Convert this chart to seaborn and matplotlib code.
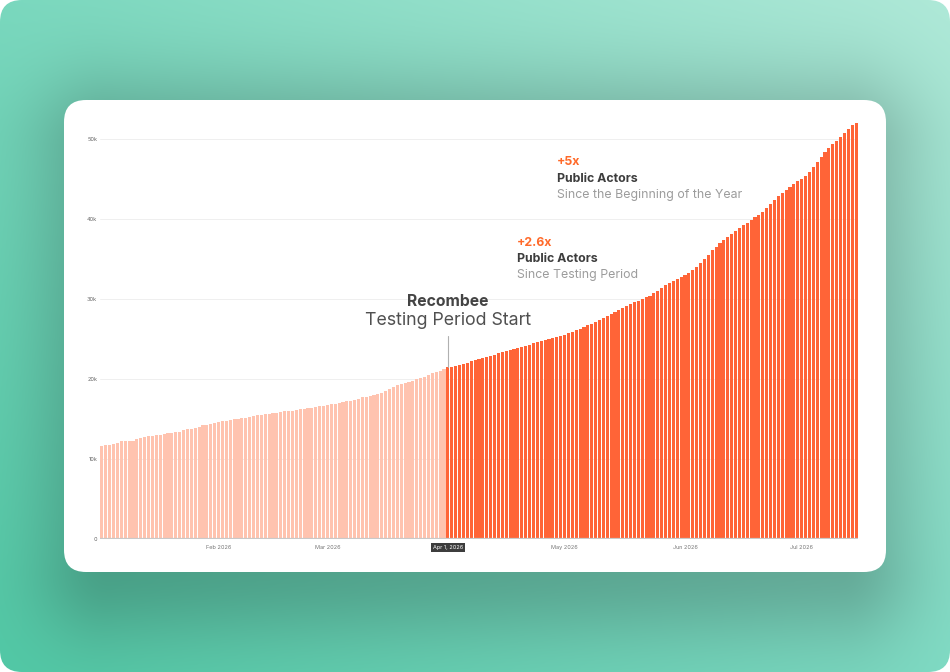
import numpy as np
import pandas as pd
import seaborn as sns
import matplotlib.pyplot as plt
from matplotlib.patches import FancyBboxPatch

# public actors per day, in thousands
jan = [11.65, 11.7, 11.8, 11.85, 12.0, 12.2, 12.25, 12.3, 12.3, 12.55, 12.65, 12.75, 12.85, 12.9, 12.95,
       13.05, 13.1, 13.2, 13.25, 13.35, 13.4, 13.6, 13.7, 13.75, 13.9, 14.05, 14.2, 14.25, 14.35, 14.45]
feb = [14.6, 14.7, 14.75, 14.85, 14.95, 15.05, 15.1, 15.15, 15.25, 15.35, 15.45, 15.55, 15.6, 15.65,
       15.7, 15.8, 15.9, 15.95, 16.0, 16.05, 16.15, 16.25, 16.3, 16.35, 16.4, 16.5, 16.6, 16.65]
mar = [16.75, 16.85, 16.9, 17.0, 17.1, 17.2, 17.3, 17.4, 17.55, 17.7, 17.8, 17.9, 18.0, 18.15, 18.3, 18.5,
       18.7, 18.95, 19.25, 19.35, 19.45, 19.6, 19.8, 20.0, 20.15, 20.3, 20.5, 20.7, 20.85, 21.0, 21.2]
apr = [21.5, 21.55, 21.6, 21.7, 21.85, 22.05, 22.25, 22.4, 22.5, 22.65, 22.8, 22.9, 23.05, 23.2, 23.35,
       23.5, 23.6, 23.7, 23.85, 24.0, 24.15, 24.3, 24.45, 24.6, 24.75, 24.85, 25.0, 25.1, 25.25, 25.4]
may = [25.55, 25.7, 25.9, 26.1, 26.3, 26.5, 26.7, 26.9, 27.15, 27.4, 27.65, 27.9, 28.1, 28.35, 28.6, 28.85,
       29.1, 29.4, 29.6, 29.8, 30.0, 30.2, 30.4, 30.75, 31.05, 31.4, 31.7, 31.95, 32.2, 32.45, 32.7]
jun = [33.0, 33.3, 33.65, 34.0, 34.5, 35.0, 35.55, 36.1, 36.5, 36.95, 37.4, 37.8, 38.15, 38.5, 38.85,
       39.2, 39.5, 39.85, 40.2, 40.55, 40.9, 41.4, 41.9, 42.4, 42.9, 43.3, 43.65, 44.0, 44.35, 44.7]
jul = [45.0, 45.4, 45.9, 46.5, 47.1, 47.8, 48.4, 48.9, 49.35, 49.8, 50.3, 50.8, 51.3, 51.75, 52.0]

first_day = "2026-01-02"
testing_start = "2026-04-01"
month_ticks = ["2026-02-01", "2026-03-01", "2026-05-01", "2026-06-01", "2026-07-01"]
month_labels = ["Feb 2026", "Mar 2026", "May 2026", "Jun 2026", "Jul 2026"]
y_ticks = [0, 10, 20, 30, 40, 50]
y_labels = ["0", "10k", "20k", "30k", "40k", "50k"]

values = jan + feb + mar + apr + may + jun + jul
dates = pd.date_range(first_day, periods=len(values), freq="D")
df = pd.DataFrame({"day": np.arange(len(values)), "actors": values,
                   "phase": np.where(dates < pd.Timestamp(testing_start), "before", "after")})
start_i = int(np.where(dates == pd.Timestamp(testing_start))[0][0])
start_val = values[start_i]

sns.set_style("white")
plt.rcParams["font.family"] = ["Inter", "DejaVu Sans"]

W, H = 950, 672
fig = plt.figure(figsize=(9.5, 6.72), dpi=100)
fig.patch.set_facecolor("white")

# background gradient with the card shadow
bg = fig.add_axes([0, 0, 1, 1])
yy, xx = np.mgrid[0:H, 0:W]
u, v = xx / W, yy / H
tl, tr = np.array([122, 216, 190]), np.array([175, 233, 216])
bl, br = np.array([82, 201, 166]), np.array([128, 219, 196])
img = ((1 - u) * (1 - v))[..., None] * tl + (u * (1 - v))[..., None] * tr \
    + ((1 - u) * v)[..., None] * bl + (u * v)[..., None] * br
dx = np.maximum(np.maximum(110 - xx, xx - 840), 0)
dy = np.maximum(np.maximum(150 - yy, yy - 565), 0)
shadow = np.exp(-(dx ** 2 + dy ** 2) / (2 * 55.0 ** 2))
img = img * (1 - 0.22 * shadow[..., None])
im = bg.imshow(img.astype(np.uint8), extent=[0, W, H, 0], interpolation="bilinear")
bg.set_xlim(0, W)
bg.set_ylim(H, 0)
bg.axis("off")
outer = FancyBboxPatch((0, 0), W, H, boxstyle="round,pad=0,rounding_size=22",
                       transform=bg.transData, facecolor="none", edgecolor="none")
bg.add_patch(outer)
im.set_clip_path(outer)
card = FancyBboxPatch((64, 100), 822, 472, boxstyle="round,pad=0,rounding_size=22",
                      facecolor="white", edgecolor="none")
bg.add_patch(card)

# chart
ax = fig.add_axes([100 / W, (H - 539) / H, 758 / W, (539 - 119.8) / H])
ax.set_facecolor("none")
sns.barplot(data=df, x="day", y="actors", hue="phase", dodge=False, legend=False,
            palette={"before": "#ffc3af", "after": "#ff6437"}, saturation=1,
            width=0.8, linewidth=0, ax=ax)
ax.set_xlim(-0.5, len(values) - 0.5)
ax.set_ylim(0, 52.4)
sns.despine(ax=ax, left=True, bottom=True)
ax.set_xlabel("")
ax.set_ylabel("")
ax.set_yticks(y_ticks)
ax.set_yticklabels(y_labels, fontsize=4, color="#666666")
ax.tick_params(axis="y", length=0, pad=2)
ax.grid(axis="y", color="#efefef", linewidth=0.7)
ax.set_axisbelow(True)
ax.axhline(0, color="#c9c9c9", linewidth=1.6, zorder=5)

tick_pos = [int(np.where(dates == pd.Timestamp(d))[0][0]) for d in month_ticks]
ax.set_xticks(tick_pos)
ax.set_xticklabels(month_labels, fontsize=4, color="#777777")
ax.tick_params(axis="x", length=0, pad=4)

ax.text(start_i, -0.8, "Apr 1, 2026", ha="center", va="top", fontsize=4, color="white",
        bbox=dict(boxstyle="square,pad=0.35", fc="#3d3d3d", ec="none"))

# testing period start marker
ax.plot([start_i, start_i], [start_val, 25.4], color="#b0b0b0", linewidth=0.8)
ax.text(start_i, 29.75, "Recombee", ha="center", va="center", fontsize=11.3,
        fontweight="bold", color="#444444")
ax.text(start_i, 27.35, "Testing Period Start", ha="center", va="center", fontsize=12.8,
        color="#505050")

# growth callouts
orange, dark, grey = "#ff6a2a", "#3d3d3d", "#9c9c9c"
fs = 8.9
ax.text(117.0, 47.1, "+5x", ha="left", va="center", fontsize=fs, fontweight="bold", color=orange)
ax.text(117.0, 45.0, "Public Actors", ha="left", va="center", fontsize=fs, fontweight="bold", color=dark)
ax.text(117.0, 43.0, "Since the Beginning of the Year", ha="left", va="center", fontsize=fs, color=grey)
ax.text(106.8, 37.0, "+2.6x", ha="left", va="center", fontsize=fs, fontweight="bold", color=orange)
ax.text(106.8, 35.0, "Public Actors", ha="left", va="center", fontsize=fs, fontweight="bold", color=dark)
ax.text(106.8, 33.0, "Since Testing Period", ha="left", va="center", fontsize=fs, color=grey)

fig.savefig("out.png", dpi=100)
